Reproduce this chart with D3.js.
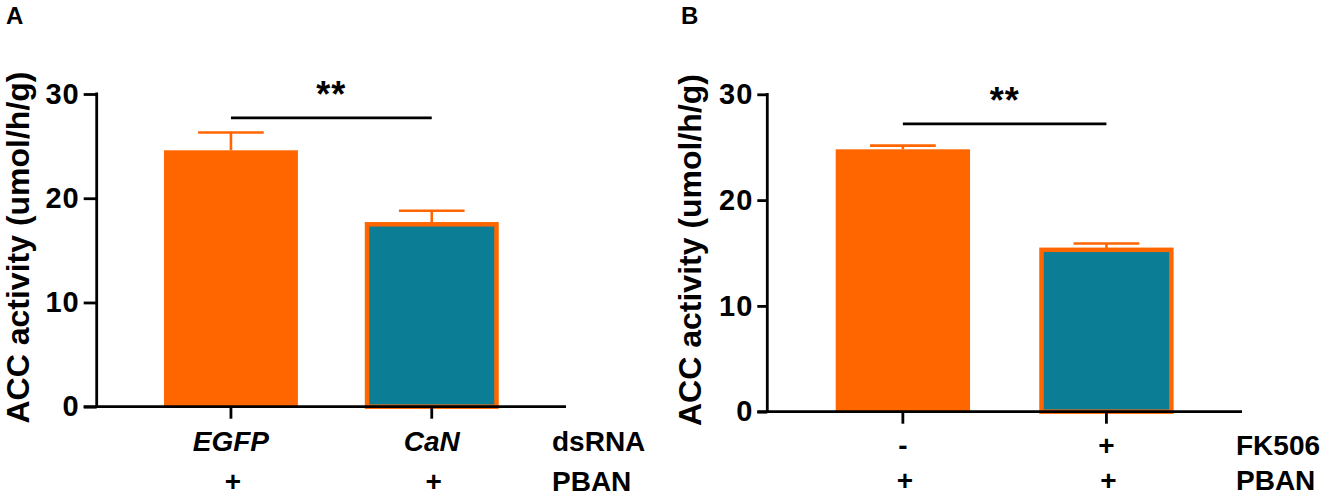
<!DOCTYPE html>
<html>
<head>
<meta charset="utf-8">
<script src="https://cdn.jsdelivr.net/npm/d3@7"></script>
<style>
  body { margin: 0; background: #fff; }
  text { font-family: "Liberation Sans", Arial, sans-serif; font-weight: bold; fill: #000; }
</style>
</head>
<body>
<div id="chart"></div>
<script>
// data
var yTicks = [0, 10, 20, 30];
var yLabel = "ACC activity (umol/h/g)";

var aCategories = ["EGFP", "CaN"];
var aMeans = [24.6, 17.5];
var aErrors = [1.7, 1.3];
var aRow2 = ["+", "+"];
var aRowNames = ["dsRNA", "PBAN"];
var aSigLevel = 27.7;

var bCategories = ["-", "+"];
var bMeans = [24.8, 15.3];
var bErrors = [0.35, 0.6];
var bRow2 = ["+", "+"];
var bRowNames = ["FK506", "PBAN"];
var bSigLevel = 27.2;

var sigText = "**";
var barFills = ["#ff6600", "#0b7e96"];
var orange = "#ff6600";

var W = 1328, H = 496;

var svg = d3.select("#chart").append("svg")
  .attr("width", W)
  .attr("height", H);

svg.append("rect").attr("width", W).attr("height", H).attr("fill", "#fff");

var panels = [
  {
    letter: "A", letterX: 6, axisX: 96.7, axisEnd: 566, tickLen: 13,
    yTop: 94, yBottom: 406.7, pad: [0.333, 0.335],
    cats: aCategories, means: aMeans, errs: aErrors, row2: aRow2,
    rowNames: aRowNames, rowNameX: 552, italicCats: true,
    row1Y: 451, row2Y: 491, sig: aSigLevel, labelX: 29, labelY: 247.5
  },
  {
    letter: "B", letterX: 681, axisX: 767.3, axisEnd: 1242, tickLen: 10,
    yTop: 94.3, yBottom: 411.7, pad: [0.34, 0.336],
    cats: bCategories, means: bMeans, errs: bErrors, row2: bRow2,
    rowNames: bRowNames, rowNameX: 1236, italicCats: false,
    row1Y: 455, row2Y: 490, sig: bSigLevel, labelX: 701, labelY: 250
  }
];

panels.forEach(function (p) {
  var g = svg.append("g");

  var x = d3.scaleBand()
    .domain(p.cats)
    .range([p.axisX, p.axisEnd])
    .paddingInner(p.pad[0])
    .paddingOuter(p.pad[1]);

  var y = d3.scaleLinear()
    .domain([0, 30])
    .range([p.yBottom, p.yTop]);

  // panel letter
  g.append("text")
    .attr("x", p.letterX)
    .attr("y", 24)
    .style("font-size", "24px")
    .text(p.letter);

  // bars
  var sw = 4.5;
  var bars = g.selectAll(".bar")
    .data(p.cats.map(function (c, i) { return { cat: c, mean: p.means[i], err: p.errs[i], i: i }; }))
    .enter();

  // error bars first, so the bar covers the lower part
  bars.append("line")
    .attr("x1", function (d) { return x(d.cat) + x.bandwidth() / 2; })
    .attr("x2", function (d) { return x(d.cat) + x.bandwidth() / 2; })
    .attr("y1", function (d) { return y(d.mean); })
    .attr("y2", function (d) { return y(d.mean + d.err); })
    .attr("stroke", orange)
    .attr("stroke-width", 2.6);

  bars.append("line")
    .attr("x1", function (d) { return x(d.cat) + x.bandwidth() / 2 - x.bandwidth() * 0.245; })
    .attr("x2", function (d) { return x(d.cat) + x.bandwidth() / 2 + x.bandwidth() * 0.245; })
    .attr("y1", function (d) { return y(d.mean + d.err); })
    .attr("y2", function (d) { return y(d.mean + d.err); })
    .attr("stroke", orange)
    .attr("stroke-width", 2.6);

  bars.append("rect")
    .attr("x", function (d) { return d.i == 0 ? x(d.cat) : x(d.cat) + sw / 2; })
    .attr("y", function (d) { return y(d.mean); })
    .attr("width", function (d) { return d.i == 0 ? x.bandwidth() : x.bandwidth() - sw; })
    .attr("height", function (d) { return y(0) - y(d.mean); })
    .attr("fill", function (d) { return barFills[d.i]; })
    .attr("stroke", function (d) { return d.i == 0 ? "none" : orange; })
    .attr("stroke-width", sw);

  // y axis
  var yAxis = d3.axisLeft(y).tickValues(yTicks).tickSize(p.tickLen).tickPadding(4).tickFormat(d3.format("d"));
  var ya = g.append("g")
    .attr("transform", "translate(" + p.axisX + ",0)")
    .call(yAxis);
  ya.select(".domain").attr("stroke", "#000").attr("stroke-width", 2.8)
    .attr("d", "M0," + (p.yTop - 1.4) + "V" + p.yBottom);
  ya.selectAll(".tick line").attr("stroke", "#000").attr("stroke-width", 2.8);
  ya.selectAll(".tick text")
    .style("font-size", "29px")
    .style("letter-spacing", "1px")
    .style("font-family", "'Liberation Sans', Arial, sans-serif")
    .style("font-weight", "bold")
    .attr("fill", "#000");

  // x axis
  var xAxis = d3.axisBottom(x).tickSize(12).tickFormat("");
  var xa = g.append("g")
    .attr("transform", "translate(0," + p.yBottom + ")")
    .call(xAxis);
  xa.select(".domain").attr("stroke", "#000").attr("stroke-width", 2.8)
    .attr("d", "M" + (p.axisX - p.tickLen) + ",0H" + p.axisEnd);
  xa.selectAll(".tick line").attr("stroke", "#000").attr("stroke-width", 2.8);

  // row 1: category labels
  g.selectAll(".row1")
    .data(p.cats)
    .enter().append("text")
    .attr("x", function (d) { return x(d) + x.bandwidth() / 2; })
    .attr("y", p.row1Y)
    .attr("text-anchor", "middle")
    .style("font-size", "28px")
    .style("font-style", p.italicCats ? "italic" : "normal")
    .text(function (d) { return d; });

  // row 2
  g.selectAll(".row2")
    .data(p.row2)
    .enter().append("text")
    .attr("x", function (d, i) { return x(p.cats[i]) + x.bandwidth() / 2 + 2; })
    .attr("y", p.row2Y)
    .attr("text-anchor", "middle")
    .style("font-size", "28px")
    .text(function (d) { return d; });

  // row names
  g.selectAll(".rowName")
    .data(p.rowNames)
    .enter().append("text")
    .attr("x", p.rowNameX)
    .attr("y", function (d, i) { return i == 0 ? p.row1Y : p.row2Y; })
    .style("font-size", "28px")
    .text(function (d) { return d; });

  // significance
  var c0 = x(p.cats[0]) + x.bandwidth() / 2,
    c1 = x(p.cats[1]) + x.bandwidth() / 2;
  g.append("line")
    .attr("x1", c0).attr("x2", c1)
    .attr("y1", y(p.sig)).attr("y2", y(p.sig))
    .attr("stroke", "#000")
    .attr("stroke-width", 2.8);
  g.append("text")
    .attr("x", (c0 + c1) / 2)
    .attr("y", y(p.sig) - 11)
    .attr("text-anchor", "middle")
    .style("font-size", "36px")
    .style("letter-spacing", "1px")
    .text(sigText);

  // y label
  g.append("text")
    .attr("transform", "translate(" + p.labelX + "," + p.labelY + ") rotate(-90)")
    .attr("text-anchor", "middle")
    .style("font-size", "32px")
    .text(yLabel);
});
</script>
</body>
</html>
